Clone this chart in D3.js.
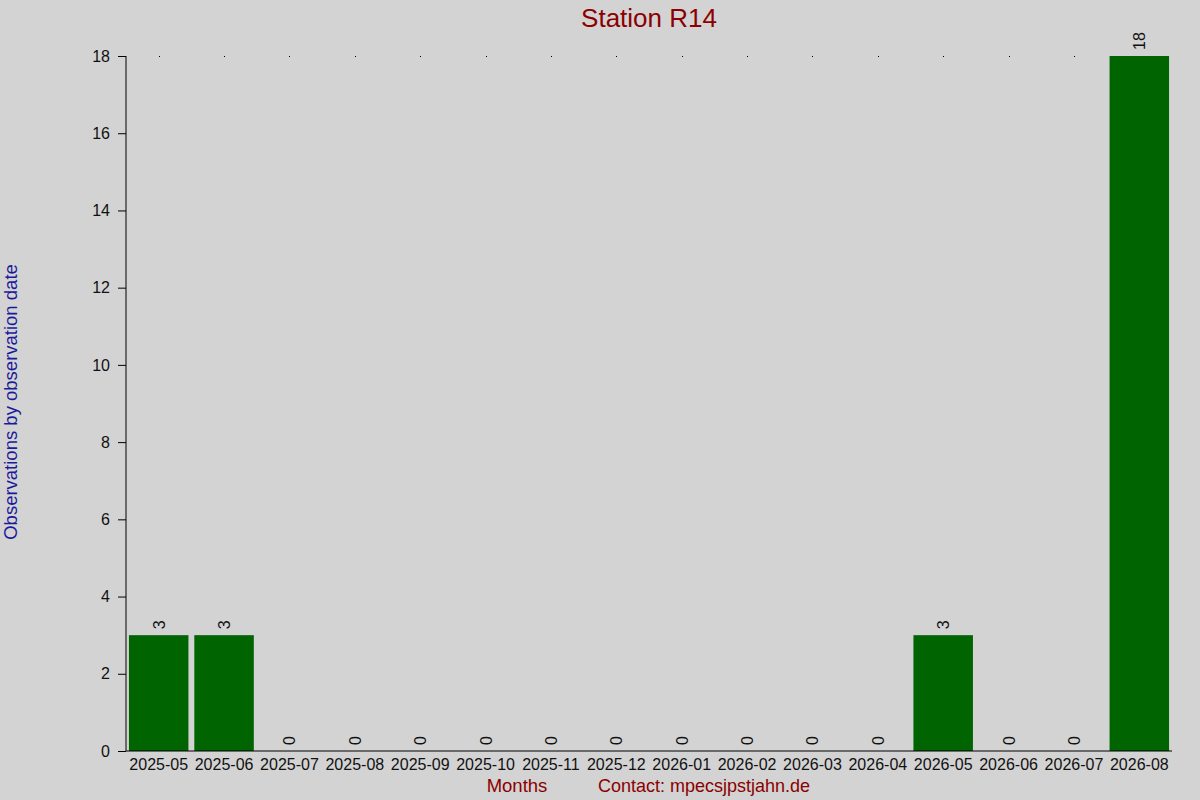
<!DOCTYPE html>
<html><head><meta charset="utf-8">
<script src="https://cdn.jsdelivr.net/npm/d3@7"></script>
<style>body{margin:0;background:#d3d3d3;}svg{display:block;font-family:"Liberation Sans",Arial,sans-serif;}</style>
</head><body>
<svg id="c" width="1200" height="800"></svg>
<script>
const months = ["2025-05","2025-06","2025-07","2025-08","2025-09","2025-10","2025-11","2025-12","2026-01","2026-02","2026-03","2026-04","2026-05","2026-06","2026-07","2026-08"];
const counts = [3,3,0,0,0,0,0,0,0,0,0,0,3,0,0,18];
const yTicks = [0,2,4,6,8,10,12,14,16,18];

const svg = d3.select("#c");
svg.append("rect").attr("width",1200).attr("height",800).attr("fill","#d3d3d3");
const L=126, R=1172, T=56, B=751;
const x = d3.scaleBand().domain(months).range([L,R]).paddingInner(0.09).paddingOuter(0.045);
const y = d3.scaleLinear().domain([0,18]).range([B,T]);

// dots at top
svg.append("g").selectAll("rect").data(months).join("rect")
  .attr("x",d=>Math.round(x(d)+x.bandwidth()/2)).attr("y",y(18)).attr("width",1).attr("height",1).attr("fill","#000");

// bars
svg.append("g").selectAll("rect").data(months.map((m,i)=>({m,v:counts[i]}))).join("rect")
  .attr("x",d=>x(d.m)).attr("y",d=>y(d.v)).attr("width",x.bandwidth()).attr("height",d=>B-y(d.v))
  .attr("fill","#006400");

// value labels
svg.append("g").selectAll("text").data(months.map((m,i)=>({m,v:counts[i]}))).join("text")
  .attr("transform",d=>`translate(${x(d.m)+x.bandwidth()/2+6},${y(d.v)-6}) rotate(-90)`)
  .attr("text-anchor","start").attr("font-size",16).attr("fill","#111")
  .text(d=>d.v);

// y axis
const ya = svg.append("g").attr("transform",`translate(${L},0)`)
  .call(d3.axisLeft(y).tickValues(yTicks).tickSize(8).tickPadding(8));
ya.selectAll("text").attr("font-size",16).attr("fill","#111").attr("font-family","Liberation Sans, Arial, sans-serif");
ya.select(".domain").attr("d",`M0,${T}V${B}`).attr("stroke","#000");
ya.selectAll(".tick line").attr("stroke","#000");

// x axis
const xa = svg.append("g").attr("transform",`translate(0,${B})`)
  .call(d3.axisBottom(x).tickSize(0).tickPadding(8));
xa.select(".domain").attr("d",`M${L},0H${R}`).attr("stroke","#000");
xa.selectAll("text").attr("font-size",16).attr("fill","#111").attr("font-family","Liberation Sans, Arial, sans-serif");

// titles
svg.append("text").attr("x",649).attr("y",27).attr("text-anchor","middle").attr("font-size",26).attr("fill","#8b0000").text("Station R14");
svg.append("text").attr("transform","translate(17,402) rotate(-90)").attr("text-anchor","middle").attr("font-size",18.5).attr("fill","#1a1a9c").text("Observations by observation date");
svg.append("text").attr("x",517).attr("y",792).attr("text-anchor","middle").attr("font-size",18.5).attr("fill","#8b0000").text("Months");
svg.append("text").attr("x",598).attr("y",792).attr("font-size",18.5).attr("fill","#8b0000")
  .attr("textLength",212).attr("lengthAdjust","spacingAndGlyphs").text("Contact: mpecsjpstjahn.de");
</script>
</body></html>
